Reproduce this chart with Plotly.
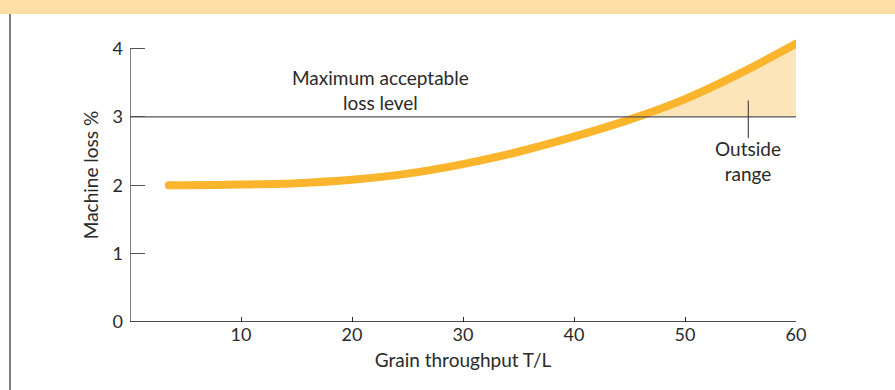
import plotly.graph_objects as go

# Machine loss curve against grain throughput
throughput = [3.5, 5, 10, 15, 20, 25, 30, 35, 40, 45, 50, 55, 60]
machine_loss = [2.0, 2.0, 2.01, 2.03, 2.08, 2.17, 2.31, 2.49, 2.71, 2.96, 3.26, 3.64, 4.07]

max_loss_level = 3
x_ticks = [10, 20, 30, 40, 50, 60]
y_ticks = [0, 1, 2, 3, 4]
y_tick_labels = ["0", "1", "2", "3", "4"]
outside_marker_x = 55.7

CURVE = "#FBB52C"
FILL = "#FDE5BA"
INK = "#2a2a2a"
RULE = "#555555"
FONT = "Lato"

W, H = 895, 390
ML, MR, MT, MB = 130, 99, 28, 68


def px_x(p):
    return (p - ML) / (W - ML - MR)


def px_y(p):
    return 1 - (p - MT) / (H - MT - MB)


# crossing point of the curve with the acceptable-loss level
cross_x = None
for i in range(1, len(throughput)):
    y0, y1 = machine_loss[i - 1], machine_loss[i]
    if y0 < max_loss_level <= y1:
        x0, x1 = throughput[i - 1], throughput[i]
        cross_x = x0 + (x1 - x0) * (max_loss_level - y0) / (y1 - y0)
        break

above_x = [cross_x] + [x for x, y in zip(throughput, machine_loss) if y > max_loss_level]
above_y = [max_loss_level] + [y for y in machine_loss if y > max_loss_level]
poly_x = above_x + [throughput[-1], cross_x]
poly_y = above_y + [max_loss_level, max_loss_level]

fig = go.Figure()

fig.add_trace(go.Scatter(
    x=poly_x, y=poly_y, mode="lines", fill="toself", fillcolor=FILL,
    line=dict(width=0, color=FILL), hoverinfo="skip", showlegend=False,
))

fig.add_trace(go.Scatter(
    x=throughput, y=machine_loss, mode="lines",
    line=dict(color=CURVE, width=8, shape="spline", smoothing=0.8),
    showlegend=False,
))
# rounded ends of the curve
fig.add_trace(go.Scatter(
    x=[throughput[0], throughput[-1]], y=[machine_loss[0], machine_loss[-1]],
    mode="markers", marker=dict(color=CURVE, size=8, line=dict(width=0)),
    showlegend=False, hoverinfo="skip",
))

shapes = [
    # header band
    dict(type="rect", xref="paper", yref="paper", x0=px_x(0), x1=px_x(W),
         y0=px_y(14), y1=px_y(0), fillcolor="#FDDFA6", line=dict(width=0), layer="below"),
    # left page rule
    dict(type="line", xref="paper", yref="paper", x0=px_x(10), x1=px_x(10),
         y0=px_y(14), y1=px_y(H), line=dict(color=RULE, width=1.5)),
    # axes
    dict(type="line", xref="x", yref="y", x0=0, x1=0, y0=-0.03, y1=4,
         line=dict(color=RULE, width=1.5)),
    dict(type="line", xref="x", yref="y", x0=0, x1=60, y0=0, y1=0,
         line=dict(color="#111111", width=1.5)),
    # acceptable loss level
    dict(type="line", xref="x", yref="y", x0=0, x1=60, y0=max_loss_level, y1=max_loss_level,
         line=dict(color=RULE, width=1.3)),
    # pointer for the outside-range label
    dict(type="line", xref="x", yref="y", x0=outside_marker_x, x1=outside_marker_x,
         y0=2.69, y1=3.24, line=dict(color=INK, width=1)),
]

annotations = [
    dict(x=22.6, y=3.39, text="Maximum acceptable<br>loss level", showarrow=False,
         font=dict(size=19, color=INK, family=FONT)),
    dict(x=outside_marker_x, y=2.36, text="Outside<br>range", showarrow=False,
         font=dict(size=19, color=INK, family=FONT)),
]

fig.update_layout(
    width=W, height=H,
    margin=dict(l=ML, r=MR, t=MT, b=MB),
    paper_bgcolor="white", plot_bgcolor="white",
    font=dict(family=FONT, size=18, color=INK),
    shapes=shapes, annotations=annotations,
    xaxis=dict(
        range=[0, 60], tickvals=x_ticks, ticks="inside", ticklen=5,
        tickcolor=INK, tickwidth=1.2, showgrid=False, zeroline=False, showline=False,
        tickfont=dict(size=18, family=FONT, color=INK),
        title=dict(text="Grain throughput T/L", standoff=9,
                   font=dict(size=19, family=FONT, color=INK)),
    ),
    yaxis=dict(
        range=[0, 4.3], tickvals=y_ticks, ticktext=y_tick_labels, ticks="inside",
        ticklen=15, tickcolor=RULE, tickwidth=1.2, showgrid=False, zeroline=False,
        showline=False, ticklabelstandoff=6,
        tickfont=dict(size=18, family=FONT, color=INK),
        title=dict(text="Machine loss %", standoff=8,
                   font=dict(size=19, family=FONT, color=INK)),
    ),
)

fig.write_html("out.html")
